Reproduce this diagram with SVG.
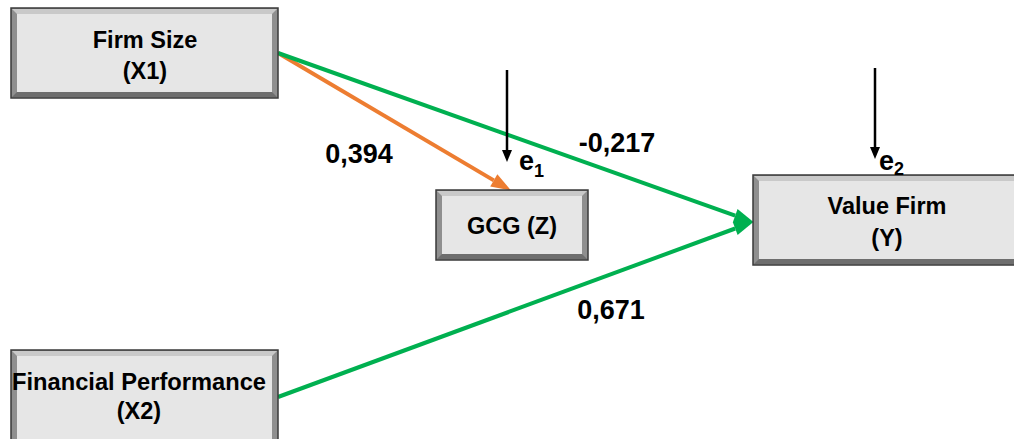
<svg xmlns="http://www.w3.org/2000/svg" width="1014" height="439" viewBox="0 0 1014 439">
<style>
.t{font-family:"Liberation Sans",Arial,sans-serif;font-weight:bold;fill:#000;text-anchor:middle}
.nt{font-size:23.5px}
.lb{font-size:27px}
.ev{font-size:27px;text-anchor:start}
.sub{font-size:18px}
.edge{fill:#8f8f8f;stroke:#3a3a3a;stroke-width:1.5}
.face{fill:#e6e6e6}
.top{fill:#c9c9c9}
.bot{fill:#6e6e6e}
.g{stroke:#00b050;stroke-width:4;fill:none}
.o{stroke:#ed7d31;stroke-width:4;fill:none}
.k{stroke:#000;stroke-width:2.5;fill:none}
</style>
<defs>
<marker id="ag" markerUnits="userSpaceOnUse" markerWidth="22" markerHeight="16" viewBox="0 -8 21 16" refX="0" refY="0" orient="auto"><path d="M0,-7 L20,0 L0,7 z" fill="#00b050"/></marker>
<marker id="ao" markerUnits="userSpaceOnUse" markerWidth="22" markerHeight="16" viewBox="0 -8 21 16" refX="0" refY="0" orient="auto"><path d="M0,-7 L20,0 L0,7 z" fill="#ed7d31"/></marker>
<marker id="ak" markerUnits="userSpaceOnUse" markerWidth="14" markerHeight="12" viewBox="0 -6 13 12" refX="0" refY="0" orient="auto"><path d="M0,-5 L12,0 L0,5 z" fill="#000"/></marker>
</defs>
<rect width="1014" height="439" fill="#fff"/>
<g id="connectors">
<line class="o" x1="278" y1="53" x2="493.8" y2="180.4" marker-end="url(#ao)"/>
<line class="g" x1="278" y1="53" x2="735.2" y2="215.7" marker-end="url(#ag)"/>
<line class="g" x1="278" y1="397" x2="735.2" y2="228.5" marker-end="url(#ag)"/>
<line class="k" x1="507" y1="70" x2="507" y2="150" marker-end="url(#ak)"/>
<line class="k" x1="875" y1="68" x2="875" y2="147" marker-end="url(#ak)"/>
</g>
<g id="node-firm-size">
<rect class="edge" x="11" y="8" width="267" height="90"/>
<polygon class="top" points="12,9 277,9 272,14 17,14"/>
<polygon class="bot" points="12,97 277,97 272,92 17,92"/>
<rect class="face" x="17" y="14" width="255" height="78"/>
<text class="t nt" x="145" y="48">Firm Size</text>
<text class="t nt" x="145" y="79">(X1)</text>
</g>
<g id="node-gcg">
<rect class="edge" x="436" y="190" width="152" height="70"/>
<polygon class="top" points="437,191 587,191 582,196 442,196"/>
<polygon class="bot" points="437,259 587,259 582,254 442,254"/>
<rect class="face" x="442" y="196" width="140" height="58"/>
<text class="t nt" x="512" y="234">GCG (Z)</text>
</g>
<g id="node-value-firm">
<rect class="edge" x="753" y="175" width="280" height="90"/>
<polygon class="top" points="754,176 1032,176 1027,181 759,181"/>
<polygon class="bot" points="754,264 1032,264 1027,259 759,259"/>
<rect class="face" x="759" y="181" width="268" height="78"/>
<text class="t nt" x="887" y="214">Value Firm</text>
<text class="t nt" x="887" y="246">(Y)</text>
</g>
<g id="node-financial-performance">
<rect class="edge" x="11" y="350" width="267" height="100"/>
<polygon class="top" points="12,351 277,351 272,356 17,356"/>
<rect class="face" x="17" y="356" width="255" height="90"/>
<text class="t nt" x="139" y="390" textLength="254" lengthAdjust="spacingAndGlyphs">Financial Performance</text>
<text class="t nt" x="139" y="419">(X2)</text>
</g>
<g id="labels">
<text class="t lb" x="359" y="163">0,394</text>
<text class="t lb" x="617" y="152">-0,217</text>
<text class="t lb" x="611" y="319">0,671</text>
<text class="t ev" x="519" y="170">e<tspan class="sub" dy="7">1</tspan></text>
<text class="t ev" x="879" y="170">e<tspan class="sub" dy="5">2</tspan></text>
</g>
</svg>
